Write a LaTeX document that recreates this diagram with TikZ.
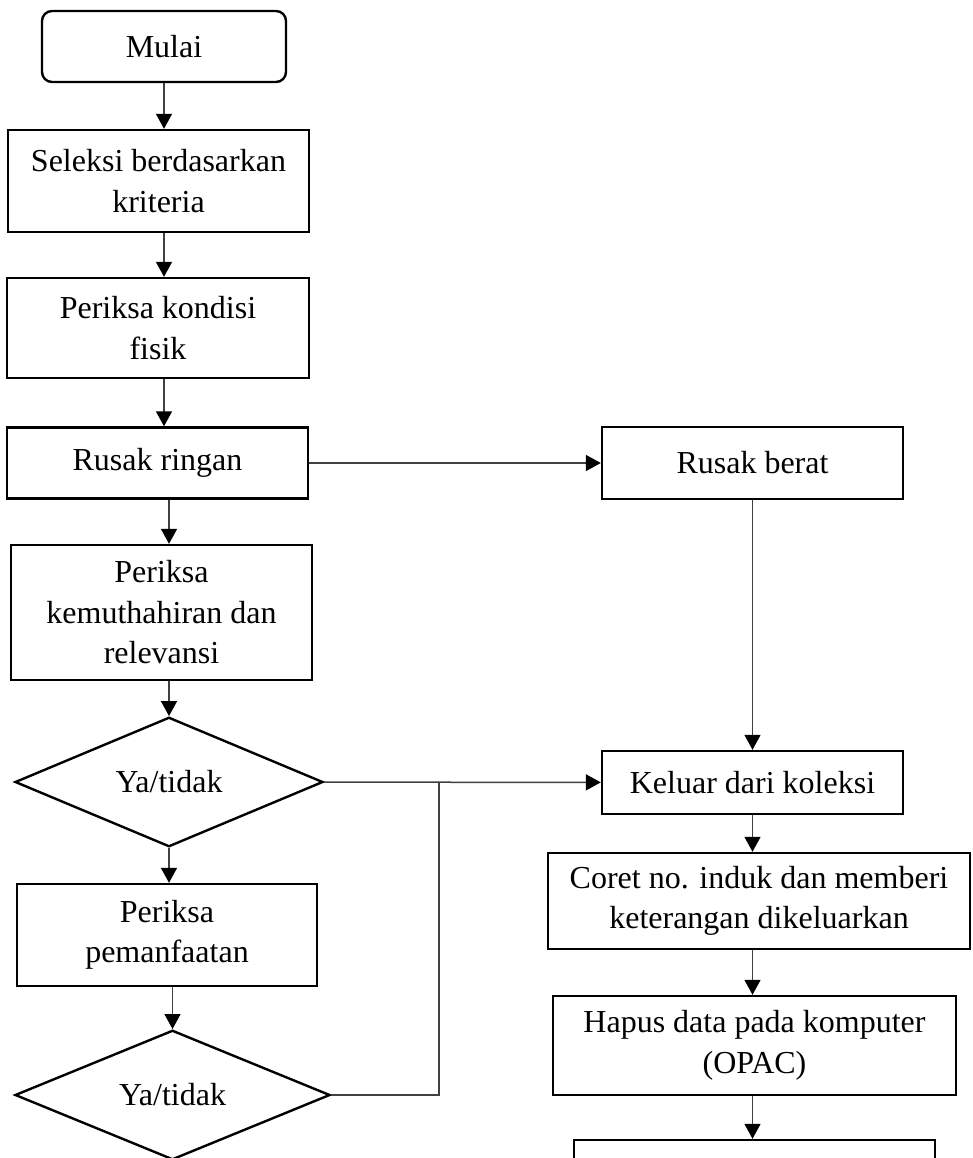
\documentclass[tikz,border=0pt]{standalone}
\usepackage{fontspec}
\setmainfont{Liberation Serif}
\usetikzlibrary{shapes.geometric,arrows.meta}

\begin{document}
\begin{tikzpicture}[x=1pt,y=-1pt,
    box/.style={draw=black, line width=2.4pt, rectangle, align=center, inner sep=0pt, font=\fontsize{32}{40.5}\selectfont},
    startbox/.style={box, rounded corners=10pt},
    decision/.style={draw=black, line width=2.4pt, diamond, inner sep=0pt, font=\fontsize{32}{40.5}\selectfont},
    conn/.style={black!75, line width=1.5pt},
    arr/.style={conn, -{Triangle[length=15pt,width=16pt,color=black]}}]
                \useasboundingbox (0,0) rectangle (972,1158);
                \clip (0,0) rectangle (972,1158);
                \node[startbox, minimum width=244pt, minimum height=71pt] (mulai) at (164,46.5) {Mulai};
                \node[box, minimum width=301pt, minimum height=102pt] (seleksi) at (158.5,181) {Seleksi berdasarkan\\kriteria};
                \node[box, minimum width=302pt, minimum height=100pt] (kondisi) at (158,328) {Periksa kondisi\\fisik};
                \node[box, minimum width=301pt, minimum height=71pt] (ringan) at (157.5,463) {Rusak ringan};
                \node[box, minimum width=301pt, minimum height=72pt] (berat) at (752.5,463) {Rusak berat};
                \node[box, minimum width=301pt, minimum height=135pt] (kemuthahiran) at (161.5,612.5) {Periksa\\kemuthahiran dan\\relevansi};
                \node[decision, minimum width=308pt, minimum height=104pt] (ya1) at (169,782) {Ya/tidak};
                \node[box, minimum width=300pt, minimum height=102pt] (pemanfaatan) at (167,935) {Periksa\\pemanfaatan};
                \node[decision, minimum width=315pt, minimum height=126pt] (ya2) at (172.5,1095) {Ya/tidak};
                \node[box, minimum width=301pt, minimum height=63pt] (keluar) at (752.5,782.5) {Keluar dari koleksi};
                \node[box, minimum width=422pt, minimum height=96pt] (coret) at (759,901) {Coret no. induk dan memberi\\keterangan dikeluarkan};
                \node[box, minimum width=403pt, minimum height=99pt] (hapus) at (754.5,1045.5) {Hapus data pada komputer\\(OPAC)};
                \node[box, minimum width=361pt, minimum height=100pt] (akhir) at (754.5,1190) {};
                \coordinate (join) at (439,782);
                \draw[arr] (mulai) -- (mulai |- seleksi.north);
                \draw[arr] (seleksi.south -| mulai) -- (kondisi.north -| mulai);
                \draw[arr] (kondisi.south -| mulai) -- (ringan.north -| mulai);
                \draw[arr] (ringan.south -| ya1) -- (kemuthahiran.north -| ya1);
                \draw[arr] (kemuthahiran.south -| ya1) -- (ya1.north);
                \draw[arr] (ya1) -- (ya1 |- pemanfaatan.north);
                \draw[arr] (pemanfaatan.south -| ya2) -- (ya2.north);
                \draw[arr] (ringan) -- (berat);
                \draw[arr] (berat) -- (keluar);
                \draw[arr] (ya1) -- (keluar);
                \draw[conn] (ya2.east) -| (join);
                \draw[arr] (keluar.south -| keluar) -- (coret.north -| keluar);
                \draw[arr] (coret.south -| keluar) -- (hapus.north -| keluar);
                \draw[arr] (hapus.south -| keluar) -- (akhir.north -| keluar);
            \end{tikzpicture}
\end{document}
